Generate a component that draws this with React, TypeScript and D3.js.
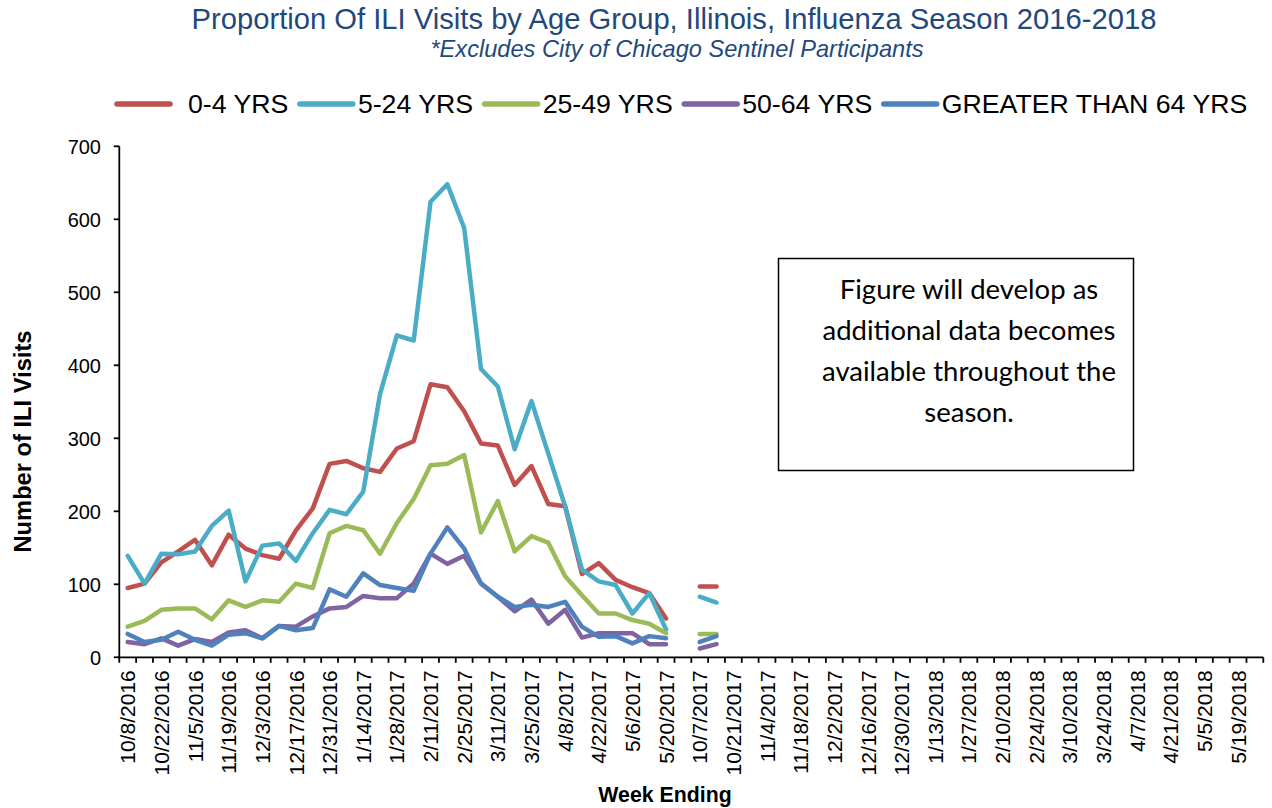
import React, { useEffect, useRef } from "react";
import * as d3 from "d3";

const seasonOneWeeks = [
  "10/8/2016", "10/15/2016", "10/22/2016", "10/29/2016", "11/5/2016", "11/12/2016",
  "11/19/2016", "11/26/2016", "12/3/2016", "12/10/2016", "12/17/2016", "12/24/2016",
  "12/31/2016", "1/7/2017", "1/14/2017", "1/21/2017", "1/28/2017", "2/4/2017",
  "2/11/2017", "2/18/2017", "2/25/2017", "3/4/2017", "3/11/2017", "3/18/2017",
  "3/25/2017", "4/1/2017", "4/8/2017", "4/15/2017", "4/22/2017", "4/29/2017",
  "5/6/2017", "5/13/2017", "5/20/2017",
];
const gapWeek = " ";
const seasonTwoWeeks = [
  "10/7/2017", "10/14/2017", "10/21/2017", "10/28/2017", "11/4/2017", "11/11/2017",
  "11/18/2017", "11/25/2017", "12/2/2017", "12/9/2017", "12/16/2017", "12/23/2017",
  "12/30/2017", "1/6/2018", "1/13/2018", "1/20/2018", "1/27/2018", "2/3/2018",
  "2/10/2018", "2/17/2018", "2/24/2018", "3/3/2018", "3/10/2018", "3/17/2018",
  "3/24/2018", "3/31/2018", "4/7/2018", "4/14/2018", "4/21/2018", "4/28/2018",
  "5/5/2018", "5/12/2018", "5/19/2018", "5/26/2018",
];

const ageGroups = ["0-4 YRS", "5-24 YRS", "25-49 YRS", "50-64 YRS", "GREATER THAN 64 YRS"];
const groupColors = ["#C0504D", "#4BACC6", "#9BBB59", "#8064A2", "#4F81BD"];

// Season 2016-2017 weekly counts
const age0to4SeasonOne = [95, 101, 130, 145, 161, 126, 168, 149, 140, 135, 174, 204, 265, 269, 259, 254, 286, 296, 374, 370, 337, 293, 290, 236, 262, 210, 207, 114, 129, 106, 96, 88, 53];
const age5to24SeasonOne = [139, 101, 142, 141, 145, 180, 201, 104, 153, 156, 132, 170, 202, 196, 227, 361, 441, 434, 624, 648, 588, 395, 371, 285, 351, 279, 207, 120, 104, 99, 60, 88, 38];
const age25to49SeasonOne = [42, 50, 65, 67, 67, 52, 78, 69, 78, 76, 101, 95, 170, 180, 174, 142, 184, 217, 263, 265, 277, 171, 214, 145, 166, 157, 111, 85, 60, 60, 51, 46, 33];
const age50to64SeasonOne = [21, 18, 26, 16, 25, 21, 34, 37, 26, 43, 42, 56, 67, 69, 84, 81, 81, 101, 142, 128, 139, 101, 83, 63, 79, 46, 65, 27, 33, 33, 33, 18, 18];
const age65plusSeasonOne = [32, 21, 24, 35, 24, 16, 31, 33, 26, 43, 37, 40, 93, 83, 115, 99, 95, 91, 142, 178, 149, 101, 83, 69, 72, 69, 76, 42, 28, 29, 19, 29, 26];

// Season 2017-2018 weekly counts (so far)
const age0to4SeasonTwo = [97, 97];
const age5to24SeasonTwo = [83, 75];
const age25to49SeasonTwo = [32, 32];
const age50to64SeasonTwo = [12, 18];
const age65plusSeasonTwo = [21, 29];

const yTicks = [0, 100, 200, 300, 400, 500, 600, 700];

const noteLines = [
  "Figure will develop as",
  "additional data becomes",
  "available throughout the",
  "season.",
];

const FONT = "'Liberation Sans', Arial, sans-serif";

export default function App() {
  const ref = useRef<SVGSVGElement | null>(null);

  useEffect(() => {
    const svg = d3.select(ref.current);
    svg.selectAll("*").remove();

    const categories = [...seasonOneWeeks, gapWeek, ...seasonTwoWeeks];
    const plotLeft = 119.3, plotRight = 1263.3, plotTop = 146.3, plotBottom = 657.3;

    const x = d3.scaleBand<string>().domain(categories).range([plotLeft, plotRight]).padding(0);
    const bw = x.bandwidth();
    const cx = (c: string) => (x(c) as number) + bw / 2;
    const y = d3.scaleLinear().domain([0, 700]).range([plotBottom, plotTop]);

    // Title
    svg.append("text")
      .attr("x", 674).attr("y", 29)
      .attr("text-anchor", "middle")
      .attr("font-family", FONT).attr("font-size", 29.2)
      .attr("fill", "#1F497D")
      .text("Proportion Of ILI Visits by Age Group, Illinois, Influenza Season 2016-2018");
    svg.append("text")
      .attr("x", 677).attr("y", 57)
      .attr("text-anchor", "middle")
      .attr("font-family", FONT).attr("font-size", 23.6).attr("font-style", "italic")
      .attr("fill", "#1F497D")
      .text("*Excludes City of Chicago Sentinel Participants");

    // Legend
    const legend = svg.append("g");
    let lx = 117;
    ageGroups.forEach((g, i) => {
      legend.append("line")
        .attr("x1", lx).attr("x2", lx + 53)
        .attr("y1", 104).attr("y2", 104)
        .attr("stroke", groupColors[i]).attr("stroke-width", 5.5)
        .attr("stroke-linecap", "round");
      const tx = i === 0 ? lx + 71 : lx + 58;
      const t = legend.append("text")
        .attr("x", tx).attr("y", 113)
        .attr("font-family", FONT).attr("font-size", 26.7)
        .attr("fill", "#000")
        .text(g);
      const w = (t.node() as SVGTextElement).getComputedTextLength();
      lx = tx + w + 11.5;
    });

    // Axes
    svg.append("line")
      .attr("x1", plotLeft).attr("x2", plotLeft)
      .attr("y1", plotTop).attr("y2", plotBottom)
      .attr("stroke", "#000").attr("stroke-width", 1.8);
    svg.append("line")
      .attr("x1", plotLeft - 1).attr("x2", plotRight)
      .attr("y1", plotBottom).attr("y2", plotBottom)
      .attr("stroke", "#000").attr("stroke-width", 1.8);

    const yg = svg.append("g");
    yTicks.forEach((v) => {
      yg.append("line")
        .attr("x1", plotLeft - 5.5).attr("x2", plotLeft)
        .attr("y1", y(v)).attr("y2", y(v))
        .attr("stroke", "#000").attr("stroke-width", 1.8);
      yg.append("text")
        .attr("x", 101).attr("y", y(v))
        .attr("dy", "0.36em")
        .attr("text-anchor", "end")
        .attr("font-family", FONT).attr("font-size", 20)
        .text(String(v));
    });

    const xg = svg.append("g");
    const bounds = [...categories.map((c) => x(c) as number), plotRight];
    bounds.forEach((bx) => {
      xg.append("line")
        .attr("x1", bx).attr("x2", bx)
        .attr("y1", plotBottom).attr("y2", plotBottom + 5.5)
        .attr("stroke", "#000").attr("stroke-width", 1.8);
    });
    categories.forEach((c, i) => {
      if (i % 2 !== 0 || c.trim() === "") return;
      xg.append("text")
        .attr("transform", `translate(${cx(c)},${plotBottom + 13}) rotate(-90)`)
        .attr("dy", "0.36em")
        .attr("text-anchor", "end")
        .attr("font-family", FONT).attr("font-size", 21)
        .text(c);
    });

    // Axis titles
    svg.append("text")
      .attr("transform", `translate(31,441.5) rotate(-90)`)
      .attr("text-anchor", "middle")
      .attr("font-family", FONT).attr("font-size", 23.7).attr("font-weight", "bold")
      .text("Number of ILI Visits");
    svg.append("text")
      .attr("x", 665).attr("y", 802)
      .attr("text-anchor", "middle")
      .attr("font-family", FONT).attr("font-size", 21.3).attr("font-weight", "bold")
      .text("Week Ending");

    // Series
    const seasonOne = [age0to4SeasonOne, age5to24SeasonOne, age25to49SeasonOne, age50to64SeasonOne, age65plusSeasonOne];
    const seasonTwo = [age0to4SeasonTwo, age5to24SeasonTwo, age25to49SeasonTwo, age50to64SeasonTwo, age65plusSeasonTwo];

    const lineOne = d3.line<number>()
      .x((_, i) => cx(seasonOneWeeks[i]))
      .y((d) => y(d));
    const lineTwo = d3.line<number>()
      .x((_, i) => cx(seasonTwoWeeks[i]))
      .y((d) => y(d));

    const lines = svg.append("g");
    ageGroups.forEach((_, i) => {
      lines.append("path")
        .attr("d", lineOne(seasonOne[i]) as string)
        .attr("fill", "none").attr("stroke", groupColors[i])
        .attr("stroke-width", 4.5)
        .attr("stroke-linejoin", "round").attr("stroke-linecap", "round");
      lines.append("path")
        .attr("d", lineTwo(seasonTwo[i]) as string)
        .attr("fill", "none").attr("stroke", groupColors[i])
        .attr("stroke-width", 4.5)
        .attr("stroke-linejoin", "round").attr("stroke-linecap", "round");
    });

    // Note box
    const note = svg.append("g");
    note.append("rect")
      .attr("x", 778.5).attr("y", 258.5)
      .attr("width", 355).attr("height", 212)
      .attr("fill", "#fff").attr("stroke", "#000").attr("stroke-width", 1.5);
    noteLines.forEach((t, i) => {
      note.append("text")
        .attr("x", 969).attr("y", 289 + i * 41)
        .attr("dy", "0.35em")
        .attr("text-anchor", "middle")
        .attr("font-family", "Lato, 'Open Sans', sans-serif").attr("font-size", 27.5)
        .attr("fill", "#000")
        .text(t);
    });
  }, []);

  return (
    <svg
      ref={ref}
      width={1272}
      height={808}
      style={{ position: "absolute", left: 0, top: 0, display: "block", background: "#fff" }}
    />
  );
}
